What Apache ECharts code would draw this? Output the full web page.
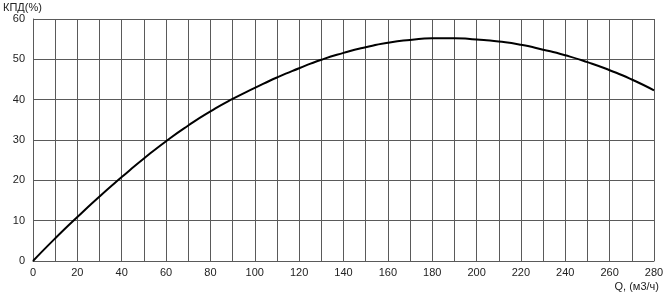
<!DOCTYPE html>
<html>
<head>
<meta charset="utf-8">
<script src="https://cdn.jsdelivr.net/npm/echarts@6/dist/echarts.min.js"></script>
<style>
  html, body { margin: 0; padding: 0; background: #fff; }
  #chart { width: 669px; height: 298px; }
</style>
</head>
<body>
<div id="chart"></div>
<script>
// Q, м3/ч
var flow = [0, 10, 20, 30, 40, 50, 60, 70, 80, 90, 100, 110, 120, 130, 140,
  150, 160, 170, 180, 190, 200, 210, 220, 230, 240, 250, 260, 270, 280];
// КПД, %
var efficiency = [0, 5.6, 10.9, 16.0, 20.8, 25.4, 29.7, 33.6, 37.1, 40.2, 42.9, 45.5, 47.8, 49.9, 51.6,
  53.0, 54.1, 54.8, 55.2, 55.2, 54.9, 54.4, 53.6, 52.4, 51.0, 49.3, 47.3, 45.0, 42.3];
var yTicks = [0, 10, 20, 30, 40, 50, 60];

var points = flow.map(function (q, i) { return [q, efficiency[i]]; });

var myChart = echarts.init(document.getElementById('chart'));
var gridColor = '#5a5a5a';
var option = {
  animation: false,
  grid: { left: 33, right: 15, top: 19, bottom: 37 },
  xAxis: {
    type: 'value',
    min: 0,
    max: 280,
    interval: 10,
    axisLine: { show: true, lineStyle: { color: gridColor, width: 1 } },
    axisTick: { show: false },
    axisLabel: {
      color: '#222',
      fontFamily: 'Arial, Liberation Sans',
      fontSize: 11,
      margin: 6,
      formatter: function (v) { return v % 20 === 0 ? String(v) : ''; }
    },
    splitLine: { show: true, lineStyle: { color: gridColor, width: 1 } }
  },
  yAxis: {
    type: 'value',
    min: yTicks[0],
    max: yTicks[yTicks.length - 1],
    interval: 10,
    axisLine: { show: true, lineStyle: { color: gridColor, width: 1 } },
    axisTick: { show: false },
    axisLabel: {
      color: '#222',
      fontFamily: 'Arial, Liberation Sans',
      fontSize: 11,
      margin: 8
    },
    splitLine: { show: true, lineStyle: { color: gridColor, width: 1 } }
  },
  graphic: [
    {
      type: 'text', left: 3, top: 2,
      style: { text: 'КПД(%)', fill: '#222', font: '11px Arial, Liberation Sans' }
    },
    {
      type: 'text', right: 10, top: 281,
      style: { text: 'Q, (м3/ч)', fill: '#222', font: '11px Arial, Liberation Sans' }
    }
  ],
  series: [
    {
      type: 'line',
      data: points,
      smooth: 0.6,
      symbol: 'none',
      lineStyle: { color: '#000', width: 2 }
    }
  ]
};
myChart.setOption(option);
</script>
</body>
</html>
